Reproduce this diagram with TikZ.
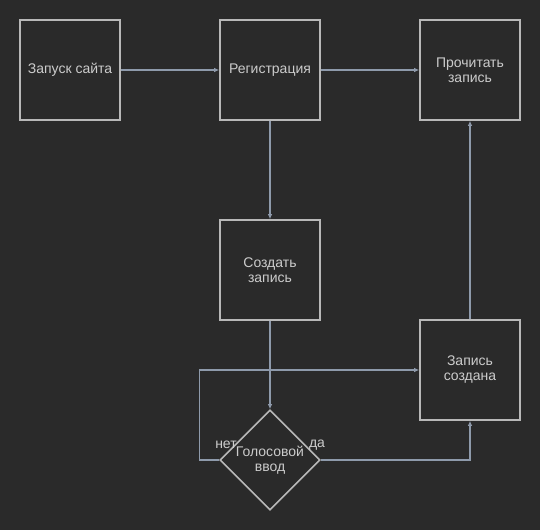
\documentclass[tikz,border=0pt]{standalone}
\usepackage{fontspec}
\setmainfont{Liberation Sans}
\usetikzlibrary{shapes.geometric,arrows.meta}
\definecolor{fon}{HTML}{2A2A2A}
\definecolor{kraj}{HTML}{B8B8B8}
\definecolor{provod}{HTML}{8E9AAB}
\definecolor{bukvy}{HTML}{CCCCCC}
\tikzset{
blok/.style={draw=kraj, line width=1.6pt, minimum width=100pt, minimum height=100pt,
  inner sep=0pt, text=bukvy, align=center, font=\fontsize{14}{15}\selectfont},
romb/.style={diamond, draw=kraj, line width=1.6pt, minimum width=100pt, minimum height=100pt,
  inner sep=0pt, text=bukvy, align=center, font=\fontsize{14}{15}\selectfont},
strelka/.style={draw=provod, line width=1.3pt, -{Latex[length=5pt,width=4.5pt]}},
metka/.style={text=bukvy, font=\fontsize{14}{15}\selectfont, inner sep=0pt}
}
\begin{document}
\begin{tikzpicture}[x=1pt,y=-1pt]
\fill[fon] (0,0) rectangle (540,530);
\useasboundingbox (0,0) rectangle (540,530);
\node[blok] (zapusk) at (70,70) {Запуск сайта};
\node[blok] (registr) at (270,70) {Регистрация};
\node[blok] (prochitat) at (470,70) {Прочитать\\запись};
\node[blok] (sozdat) at (270,270) {Создать\\запись};
\node[blok] (sozdana) at (470,370) {Запись\\создана};
\node[romb] (golos) at (270,460) {Голосовой\\ввод};
\draw[strelka] (zapusk) -- (registr);
\draw[strelka] (registr) -- (prochitat);
\draw[strelka] (registr) -- (sozdat);
\draw[strelka] (sozdat) -- (golos);
\draw[strelka] (golos.west) -- ++(-20,0) |- (sozdana.west);
\draw[strelka] (golos.east) -| (sozdana.south);
\draw[strelka] (sozdana) -- (prochitat);
\node[metka] (net) at (226,445) {нет};
\node[metka] (da) at (317,445) {да};
\end{tikzpicture}
\end{document}
